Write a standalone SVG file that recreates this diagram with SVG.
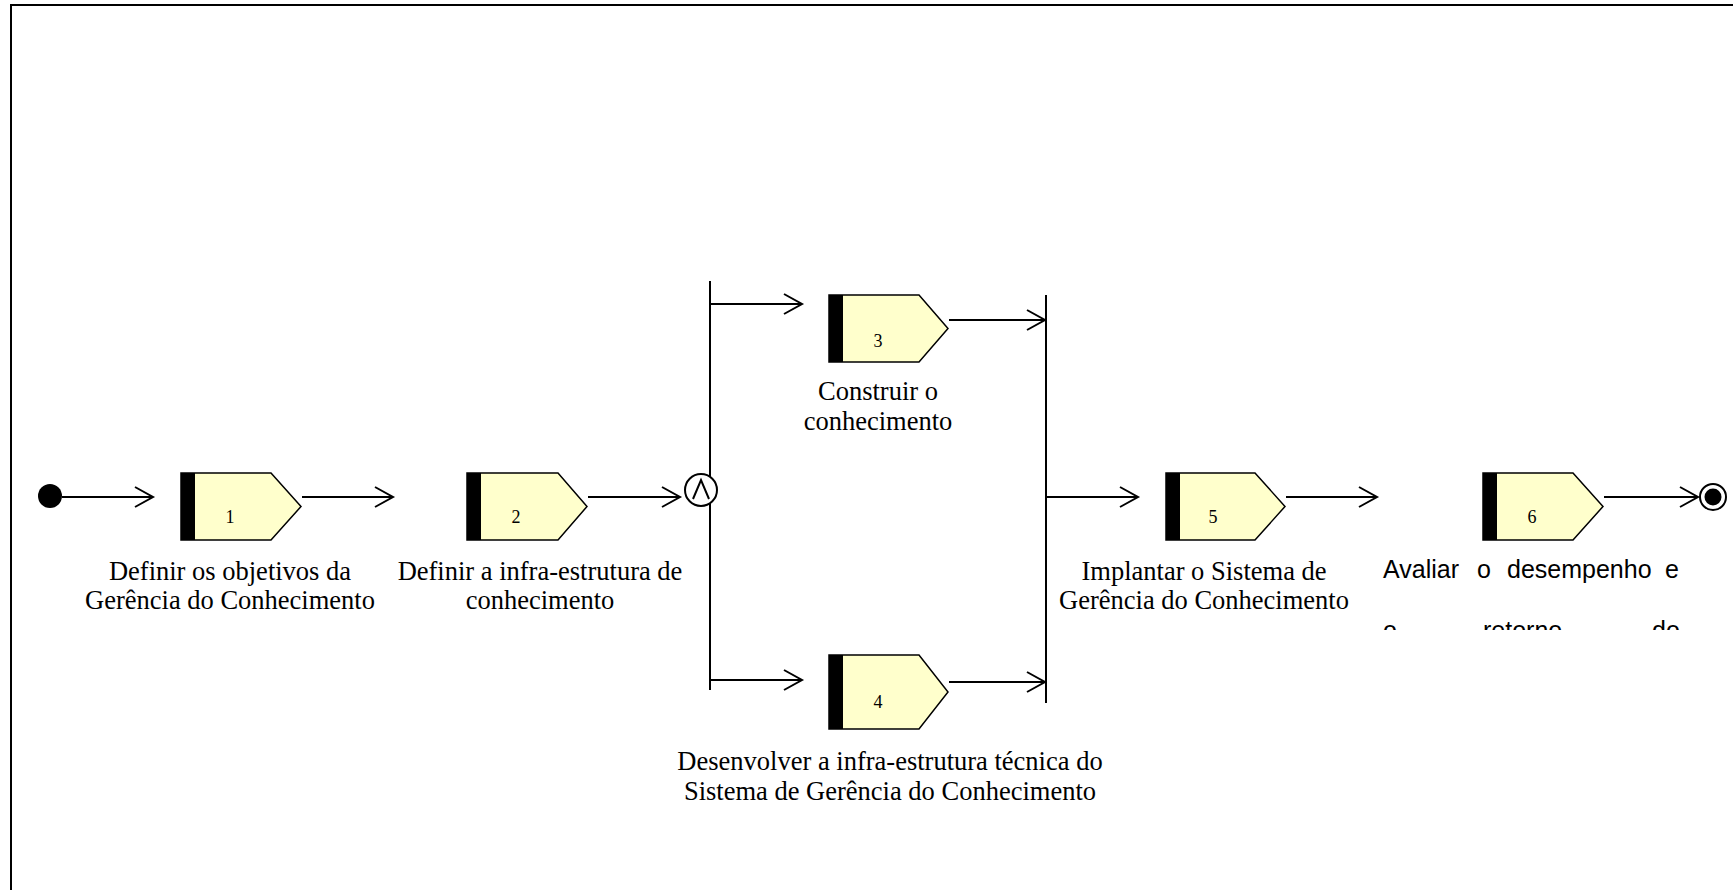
<svg xmlns="http://www.w3.org/2000/svg" width="1733" height="890" viewBox="0 0 1733 890">
  <defs>
    <marker id="open-arrow" markerUnits="userSpaceOnUse" markerWidth="24" markerHeight="24" refX="18" refY="10" orient="auto" overflow="visible">
      <path d="M0,0 L18,10 L0,20" fill="none" stroke="#000" stroke-width="2"/>
    </marker>
    <clipPath id="clip-label6">
      <rect x="1370" y="540" width="340" height="90"/>
    </clipPath>
  </defs>
  <style>
    .frame { fill: none; stroke: #000; stroke-width: 2; }
    .flow { fill: none; stroke: #000; stroke-width: 2; marker-end: url(#open-arrow); }
    .bar { fill: none; stroke: #000; stroke-width: 2; }
    .task { fill: #FFFFCC; stroke: #000; stroke-width: 1.5; }
    .band { fill: #000; }
    .num { font-family: "Liberation Serif", "Times New Roman", serif; font-size: 18px; fill: #000; text-anchor: middle; }
    .label { font-family: "Liberation Serif", "Times New Roman", serif; font-size: 26.5px; fill: #000; text-anchor: middle; }
    .label-sans { font-family: "Liberation Sans", Arial, sans-serif; font-size: 25px; fill: #000; }
  </style>

  <rect width="1733" height="890" fill="#fff"/>
  <!-- outer frame -->
  <rect class="frame" x="11" y="5" width="1760" height="920"/>

  <!-- control flow -->
  <g id="connectors">
    <path class="flow" d="M62,497 H153"/>
    <path class="flow" d="M302,497 H393"/>
    <path class="flow" d="M588,497 H680"/>
    <path class="bar" d="M710,281 V690"/>
    <path class="flow" d="M710,304 H802"/>
    <path class="flow" d="M710,680 H802"/>
    <path class="flow" d="M949,320 H1045"/>
    <path class="flow" d="M949,682 H1045"/>
    <path class="bar" d="M1046,295 V703"/>
    <path class="flow" d="M1046,497 H1138"/>
    <path class="flow" d="M1286,497 H1377"/>
    <path class="flow" d="M1604,497 H1698"/>
  </g>

  <g id="start">
    <circle cx="50" cy="496" r="12" fill="#000"/>
  </g>

  <g id="and-gateway">
    <circle cx="701" cy="490" r="16" fill="#fff" stroke="#000" stroke-width="2"/>
    <path d="M693,499 L701,480 L709,499" fill="none" stroke="#000" stroke-width="2"/>
  </g>

  <g id="task-1">
    <path class="task" d="M181,473 H271 L301,506.5 L271,540 H181 Z"/>
    <rect class="band" x="181" y="473" width="14" height="67"/>
    <text class="num" x="230" y="523">1</text>
    <text class="label" x="230" y="580">Definir os objetivos da</text>
    <text class="label" x="230" y="609">Gerência do Conhecimento</text>
  </g>

  <g id="task-2">
    <path class="task" d="M467,473 H558 L587,506.5 L558,540 H467 Z"/>
    <rect class="band" x="467" y="473" width="14" height="67"/>
    <text class="num" x="516" y="523">2</text>
    <text class="label" x="540" y="580">Definir a infra-estrutura de</text>
    <text class="label" x="540" y="609">conhecimento</text>
  </g>

  <g id="task-3">
    <path class="task" d="M829,295 H919 L948,328.5 L919,362 H829 Z"/>
    <rect class="band" x="829" y="295" width="14" height="67"/>
    <text class="num" x="878" y="347">3</text>
    <text class="label" x="878" y="400">Construir o</text>
    <text class="label" x="878" y="430">conhecimento</text>
  </g>

  <g id="task-4">
    <path class="task" d="M829,655 H919 L948,692 L919,729 H829 Z"/>
    <rect class="band" x="829" y="655" width="14" height="74"/>
    <text class="num" x="878" y="708">4</text>
    <text class="label" x="890" y="770">Desenvolver a infra-estrutura técnica do</text>
    <text class="label" x="890" y="800">Sistema de Gerência do Conhecimento</text>
  </g>

  <g id="task-5">
    <path class="task" d="M1166,473 H1255 L1285,506.5 L1255,540 H1166 Z"/>
    <rect class="band" x="1166" y="473" width="14" height="67"/>
    <text class="num" x="1213" y="523">5</text>
    <text class="label" x="1204" y="580">Implantar o Sistema de</text>
    <text class="label" x="1204" y="609">Gerência do Conhecimento</text>
  </g>

  <g id="task-6">
    <path class="task" d="M1483,473 H1573 L1603,506.5 L1573,540 H1483 Z"/>
    <rect class="band" x="1483" y="473" width="14" height="67"/>
    <text class="num" x="1532" y="523">6</text>
    <g clip-path="url(#clip-label6)">
      <text class="label-sans" y="578"><tspan x="1383">Avaliar</tspan><tspan x="1477">o</tspan><tspan x="1507">desempenho</tspan><tspan x="1665">e</tspan></text>
      <text class="label-sans" y="639"><tspan x="1383">o</tspan><tspan x="1483">retorno</tspan><tspan x="1652">do</tspan></text>
    </g>
  </g>

  <g id="end">
    <circle cx="1713" cy="497" r="13" fill="#fff" stroke="#000" stroke-width="2"/>
    <circle cx="1713" cy="497" r="8.5" fill="#000"/>
  </g>
</svg>
